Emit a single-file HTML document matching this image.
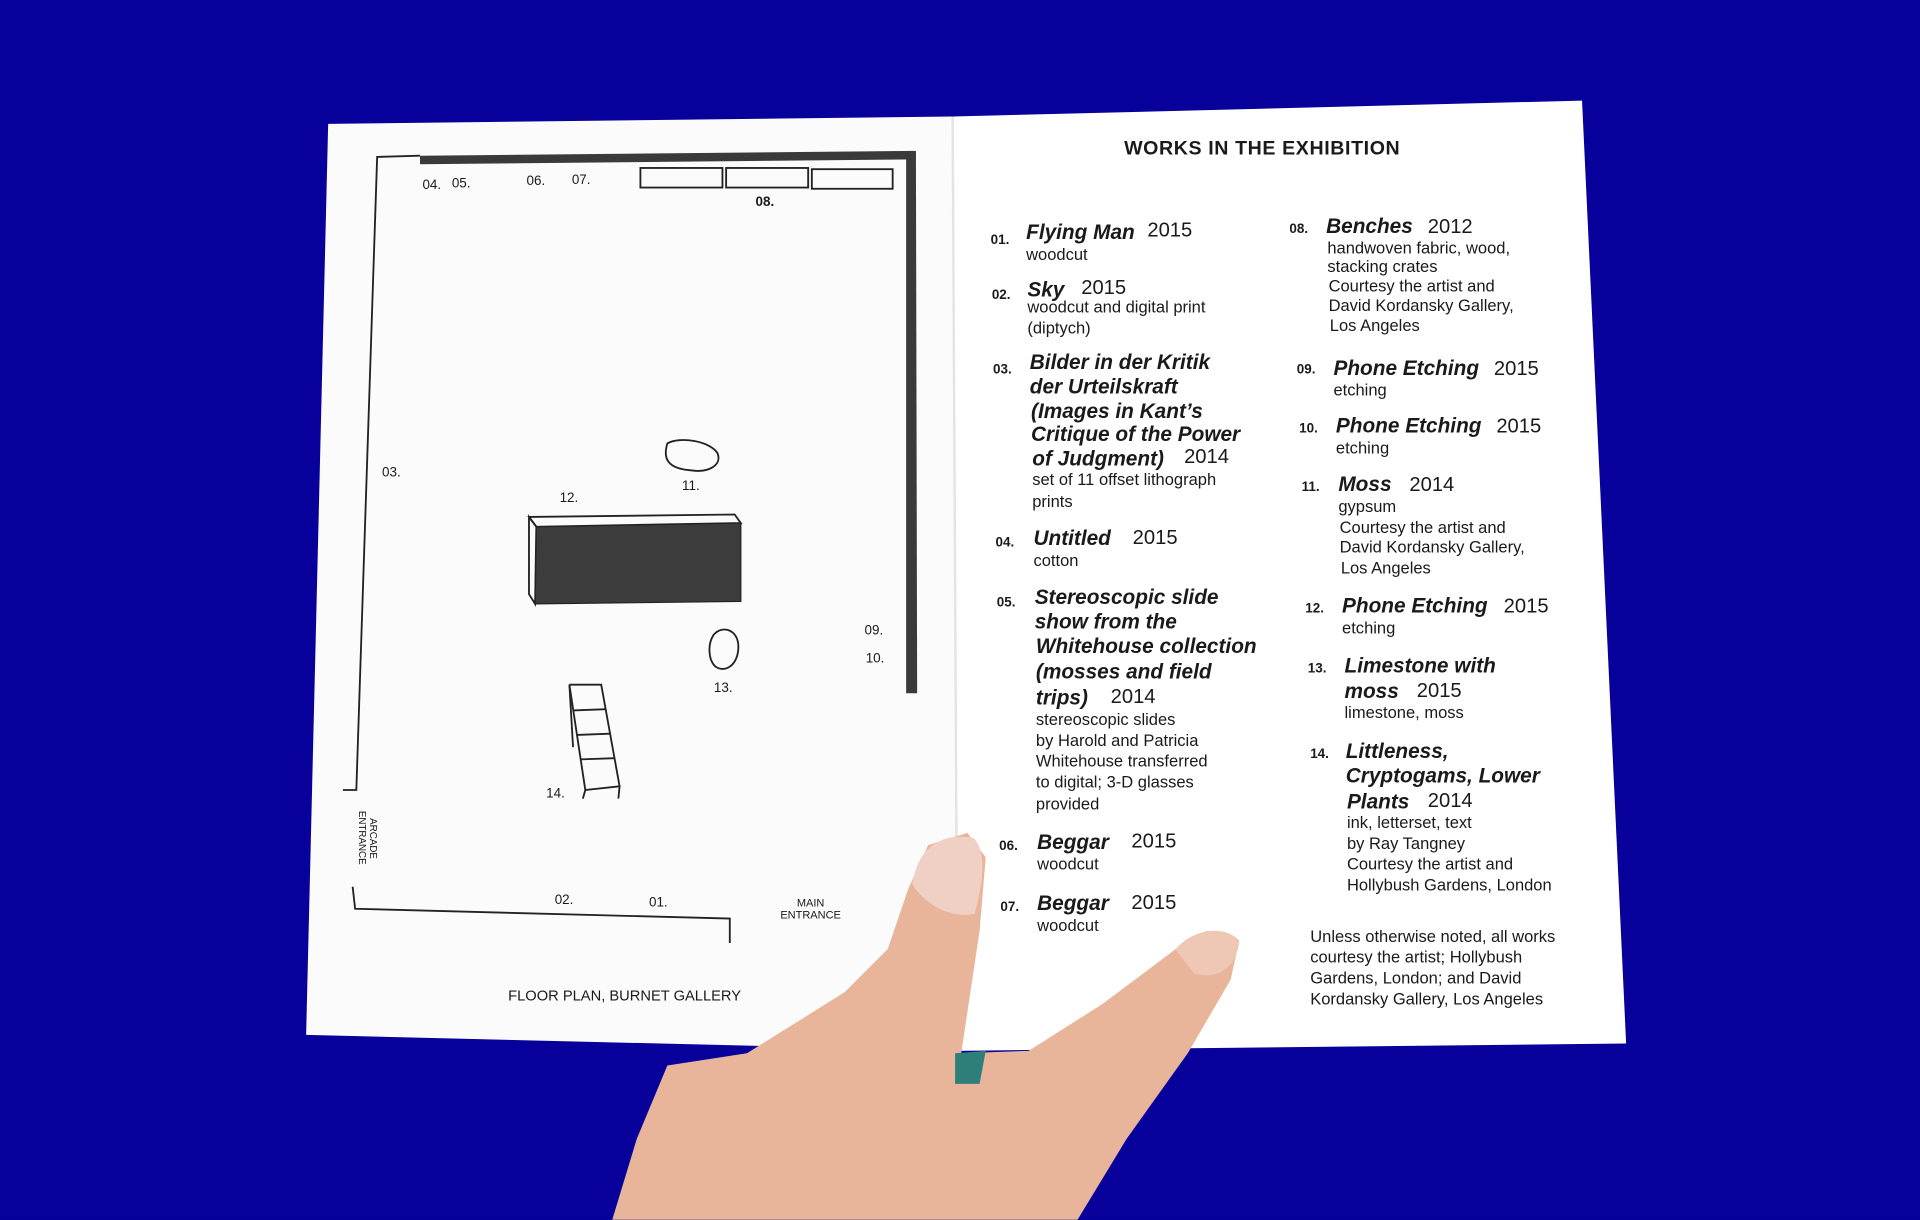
<!DOCTYPE html>
<html><head><meta charset="utf-8"><style>
html,body{margin:0;padding:0;background:#07009a;}
svg{display:block}
text{font-family:"Liberation Sans",sans-serif;fill:#1a1a1a}
.n{font-size:11px;font-weight:bold}
.t{font-size:17px;font-weight:bold;font-style:italic}
.y{font-size:16.5px}
.s{font-size:13.5px}
.m{font-size:11px}
</style></head><body>
<svg width="1920" height="1220" viewBox="0 0 1568 996" xmlns="http://www.w3.org/2000/svg">
<rect width="1568" height="996" fill="#07009a"/>
<polygon points="268,101 778,95 782,858 250,845" fill="#fbfbfb"/>
<polygon points="778,95 1292,82 1328,852 782,858" fill="#ffffff"/>
<line x1="778" y1="95" x2="782" y2="858" stroke="#e4e4e4" stroke-width="2"/>
<g fill="none" stroke="#222" stroke-width="1.5">
<polyline points="343,127 308,128 291,645 280,645"/>
<polyline points="288,724 290,742 596,750 596,770"/>
<rect x="523" y="137" width="67" height="16"/>
<rect x="593" y="137" width="67" height="16"/>
<rect x="663" y="138" width="66" height="16"/>
<path d="M545,362 C555,356 580,360 586,370 C590,380 578,386 565,384 C550,383 540,378 545,362 Z"/>
<path d="M583,518 C590,510 603,514 603,528 C603,543 592,550 584,544 C578,538 578,525 583,518 Z"/>
<polyline points="465,559 491,559 506,642 478,645 465,559"/>
<line x1="468" y1="580" x2="495" y2="579"/><line x1="471" y1="600" x2="498" y2="599"/><line x1="474" y1="620" x2="502" y2="619"/>
<line x1="465" y1="559" x2="468" y2="610"/><line x1="478" y1="645" x2="476" y2="652"/><line x1="506" y1="642" x2="505" y2="652"/>
<polygon points="432,422 600,420 605,427 438,430"/>
<polygon points="432,422 438,430 437,493 432,485"/>
</g>
<polygon points="343,127 748,123 748,130 343,134" fill="#3a3a3a"/>
<polygon points="740,124 748,124 749,566 740,566" fill="#3a3a3a"/>
<polygon points="438,430 605,427 605,491 437,493" fill="#3c3c3c" stroke="#222"/>
<g class="m">
<text x="345" y="154">04.</text><text x="369" y="153">05.</text><text x="430" y="151">06.</text><text x="467" y="150">07.</text>
<text x="617" y="168" class="n">08.</text>
<text x="312" y="389">03.</text><text x="457" y="410">12.</text><text x="557" y="400">11.</text>
<text x="706" y="518">09.</text><text x="707" y="541">10.</text><text x="583" y="565">13.</text><text x="446" y="651">14.</text>
<text x="453" y="738">02.</text><text x="530" y="740">01.</text>
</g>
<text x="662" y="740" style="font-size:9px" text-anchor="middle">MAIN</text>
<text x="662" y="750" style="font-size:9px" text-anchor="middle">ENTRANCE</text>
<text transform="translate(293,662) rotate(90)" style="font-size:8px">ENTRANCE</text>
<text transform="translate(302,668) rotate(90)" style="font-size:8px">ARCADE</text>
<text x="415" y="817" style="font-size:12px">FLOOR PLAN, BURNET GALLERY</text>
<text x="918" y="126" style="font-size:16px;font-weight:bold;letter-spacing:0.5px">WORKS IN THE EXHIBITION</text>
<g>
<text x="809" y="199" class="n">01.</text><text x="838" y="195" class="t">Flying Man</text><text x="937" y="193" class="y">2015</text>
<text x="838" y="212" class="s">woodcut</text>
<text x="810" y="244" class="n">02.</text><text x="839" y="242" class="t">Sky</text><text x="883" y="240" class="y">2015</text>
<text x="839" y="255" class="s">woodcut and digital print</text><text x="839" y="272" class="s">(diptych)</text>
<text x="811" y="305" class="n">03.</text>
<text x="841" y="301" class="t">Bilder in der Kritik</text>
<text x="841" y="321" class="t">der Urteilskraft</text>
<text x="842" y="341" class="t">(Images in Kant’s</text>
<text x="842" y="360" class="t">Critique of the Power</text>
<text x="843" y="380" class="t">of Judgment)</text><text x="967" y="378" class="y">2014</text>
<text x="843" y="396" class="s">set of 11 offset lithograph</text><text x="843" y="414" class="s">prints</text>
<text x="813" y="446" class="n">04.</text><text x="844" y="445" class="t">Untitled</text><text x="925" y="444" class="y">2015</text>
<text x="844" y="462" class="s">cotton</text>
<text x="814" y="495" class="n">05.</text>
<text x="845" y="493" class="t">Stereoscopic slide</text>
<text x="845" y="513" class="t">show from the</text>
<text x="846" y="533" class="t">Whitehouse collection</text>
<text x="846" y="554" class="t">(mosses and field</text>
<text x="846" y="575" class="t">trips)</text><text x="907" y="574" class="y">2014</text>
<text x="846" y="592" class="s">stereoscopic slides</text>
<text x="846" y="609" class="s">by Harold and Patricia</text>
<text x="846" y="626" class="s">Whitehouse transferred</text>
<text x="846" y="643" class="s">to digital; 3-D glasses</text>
<text x="846" y="661" class="s">provided</text>
<text x="816" y="694" class="n">06.</text><text x="847" y="693" class="t">Beggar</text><text x="924" y="692" class="y">2015</text>
<text x="847" y="710" class="s">woodcut</text>
<text x="817" y="744" class="n">07.</text><text x="847" y="743" class="t">Beggar</text><text x="924" y="742" class="y">2015</text>
<text x="847" y="760" class="s">woodcut</text>

<text x="1053" y="190" class="n">08.</text><text x="1083" y="190" class="t">Benches</text><text x="1166" y="190" class="y">2012</text>
<text x="1084" y="207" class="s">handwoven fabric, wood,</text>
<text x="1084" y="222" class="s">stacking crates</text>
<text x="1085" y="238" class="s">Courtesy the artist and</text>
<text x="1085" y="254" class="s">David Kordansky Gallery,</text>
<text x="1086" y="270" class="s">Los Angeles</text>
<text x="1059" y="305" class="n">09.</text><text x="1089" y="306" class="t">Phone Etching</text><text x="1220" y="306" class="y">2015</text>
<text x="1089" y="323" class="s">etching</text>
<text x="1061" y="353" class="n">10.</text><text x="1091" y="353" class="t">Phone Etching</text><text x="1222" y="353" class="y">2015</text>
<text x="1091" y="370" class="s">etching</text>
<text x="1063" y="401" class="n">11.</text><text x="1093" y="401" class="t">Moss</text><text x="1151" y="401" class="y">2014</text>
<text x="1093" y="418" class="s">gypsum</text>
<text x="1094" y="435" class="s">Courtesy the artist and</text>
<text x="1094" y="451" class="s">David Kordansky Gallery,</text>
<text x="1095" y="468" class="s">Los Angeles</text>
<text x="1066" y="500" class="n">12.</text><text x="1096" y="500" class="t">Phone Etching</text><text x="1228" y="500" class="y">2015</text>
<text x="1096" y="517" class="s">etching</text>
<text x="1068" y="549" class="n">13.</text><text x="1098" y="549" class="t">Limestone with</text>
<text x="1098" y="570" class="t">moss</text><text x="1157" y="569" class="y">2015</text>
<text x="1098" y="586" class="s">limestone, moss</text>
<text x="1070" y="619" class="n">14.</text><text x="1099" y="619" class="t">Littleness,</text>
<text x="1099" y="639" class="t">Cryptogams, Lower</text>
<text x="1100" y="660" class="t">Plants</text><text x="1166" y="659" class="y">2014</text>
<text x="1100" y="676" class="s">ink, letterset, text</text>
<text x="1100" y="693" class="s">by Ray Tangney</text>
<text x="1100" y="710" class="s">Courtesy the artist and</text>
<text x="1100" y="727" class="s">Hollybush Gardens, London</text>
<text x="1070" y="769" class="s">Unless otherwise noted, all works</text>
<text x="1070" y="786" class="s">courtesy the artist; Hollybush</text>
<text x="1070" y="803" class="s">Gardens, London; and David</text>
<text x="1070" y="820" class="s">Kordansky Gallery, Los Angeles</text>
</g>
<path d="M500,996 L520,930 L545,870 L610,860 L690,810 L725,775 L742,725 L758,690 L790,680 L805,700 L800,760 L785,860 L840,858 L900,820 L960,775 L985,760 L1012,768 L1005,800 L970,860 L920,930 L880,996 Z" fill="#e8b59a"/>
<path d="M745,722 C750,690 770,680 795,684 C806,695 803,720 796,746 C780,750 758,742 745,722 Z" fill="#f0cfc4"/>
<path d="M960,775 C975,758 1000,755 1012,768 C1010,790 995,800 975,795 Z" fill="#eec7b5"/>
<path d="M780,860 L805,858 L800,885 L780,885 Z" fill="#2e7f7a"/>
</svg>
</body></html>
